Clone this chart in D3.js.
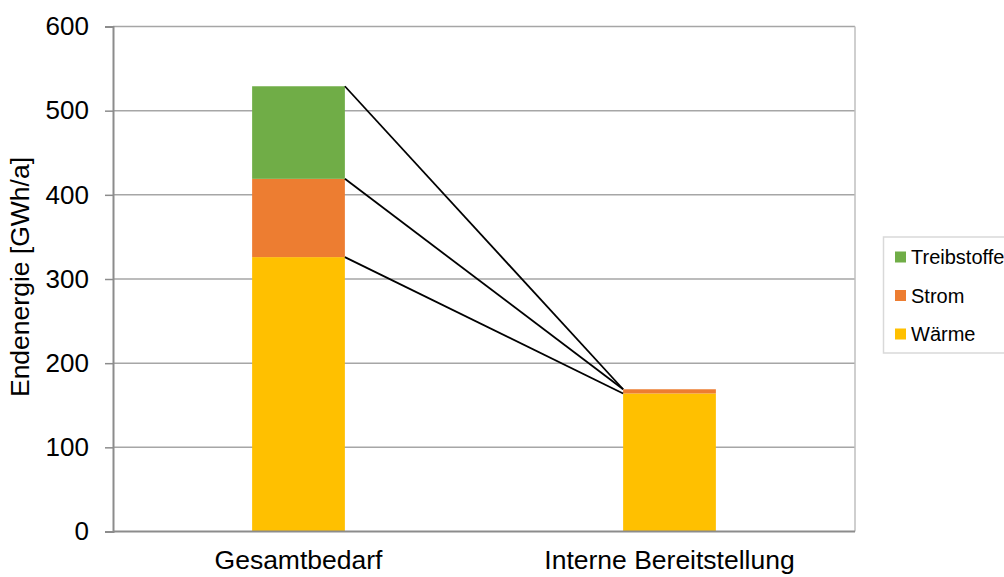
<!DOCTYPE html>
<html>
<head>
<meta charset="utf-8">
<script src="https://cdn.jsdelivr.net/npm/d3@7"></script>
<style>
  html, body { margin: 0; padding: 0; background: #fff; }
  svg { display: block; font-family: "Liberation Sans", Arial, sans-serif; }
</style>
</head>
<body>
<svg id="chart" width="1004" height="577"></svg>
<script>
// Energy demand vs. internal supply (GWh/a)
const categories = ["Gesamtbedarf", "Interne Bereitstellung"];
const seriesNames = ["Wärme", "Strom", "Treibstoffe"];
const waerme = [326, 164];
const strom = [93, 5];
const treibstoffe = [110, 0];
const yTicks = [0, 100, 200, 300, 400, 500, 600];
const colors = { "Wärme": "#FFC000", "Strom": "#ED7D31", "Treibstoffe": "#70AD47" };

const rows = categories.map((c, i) => ({
  category: c,
  "Wärme": waerme[i],
  "Strom": strom[i],
  "Treibstoffe": treibstoffe[i]
}));

const svg = d3.select("#chart");
const plot = { left: 113, right: 855, top: 26.5, bottom: 531.5 };

const x = d3.scaleBand()
  .domain(categories)
  .range([plot.left, plot.right])
  .paddingInner(0.75)
  .paddingOuter(0.375);

const y = d3.scaleLinear()
  .domain([0, 600])
  .range([plot.bottom, plot.top]);

// horizontal gridlines
svg.append("g")
  .selectAll("line")
  .data(yTicks.filter(d => d > 0))
  .join("line")
  .attr("x1", plot.left).attr("x2", plot.right)
  .attr("y1", d => y(d)).attr("y2", d => y(d))
  .attr("stroke", "#a6a6a6").attr("stroke-width", 1.5);

// right plot border
svg.append("line")
  .attr("x1", plot.right).attr("x2", plot.right)
  .attr("y1", plot.top).attr("y2", plot.bottom)
  .attr("stroke", "#bfbfbf").attr("stroke-width", 1.5);

// stacked bars
const stack = d3.stack().keys(seriesNames);
const stacked = stack(rows);

svg.append("g")
  .selectAll("g")
  .data(stacked)
  .join("g")
  .attr("fill", d => colors[d.key])
  .selectAll("rect")
  .data(d => d)
  .join("rect")
  .attr("x", d => x(d.data.category))
  .attr("width", x.bandwidth())
  .attr("y", d => y(d[1]))
  .attr("height", d => y(d[0]) - y(d[1]));

// series lines linking segment tops between the two bars
const c0 = categories[0], c1 = categories[1];
svg.append("g")
  .selectAll("line")
  .data(stacked)
  .join("line")
  .attr("x1", x(c0) + x.bandwidth())
  .attr("y1", d => y(d[0][1]))
  .attr("x2", x(c1))
  .attr("y2", d => y(d[1][1]))
  .attr("stroke", "#000").attr("stroke-width", 1.8);

// y axis
const yAxis = d3.axisLeft(y).tickValues(yTicks).tickSize(8).tickPadding(16);
const gy = svg.append("g")
  .attr("transform", `translate(${plot.left},0)`)
  .call(yAxis);
gy.select(".domain").attr("stroke", "#8c8c8c").attr("stroke-width", 2);
gy.selectAll(".tick line").attr("stroke", "#8c8c8c").attr("stroke-width", 1.5);
gy.selectAll(".tick text")
  .attr("font-size", 26).attr("fill", "#000")
  .attr("font-family", "Liberation Sans, Arial, sans-serif");

// x axis baseline
svg.append("line")
  .attr("x1", plot.left).attr("x2", plot.right)
  .attr("y1", plot.bottom).attr("y2", plot.bottom)
  .attr("stroke", "#8c8c8c").attr("stroke-width", 2);

// category labels
svg.append("g")
  .selectAll("text")
  .data(categories)
  .join("text")
  .attr("x", d => x(d) + x.bandwidth() / 2)
  .attr("y", 569)
  .attr("text-anchor", "middle")
  .attr("font-size", 26.5)
  .attr("fill", "#000")
  .text(d => d);

// y axis title
svg.append("text")
  .attr("transform", `translate(29,${(plot.top + plot.bottom) / 2 - 2}) rotate(-90)`)
  .attr("text-anchor", "middle")
  .attr("font-size", 26.5)
  .attr("fill", "#000")
  .text("Endenergie [GWh/a]");

// legend
const legend = svg.append("g");
legend.append("rect")
  .attr("x", 883.5).attr("y", 237)
  .attr("width", 140).attr("height", 116)
  .attr("fill", "#fff").attr("stroke", "#d9d9d9").attr("stroke-width", 1.5);

const legendOrder = seriesNames.slice().reverse();
const items = legend.selectAll("g.item")
  .data(legendOrder)
  .join("g")
  .attr("class", "item")
  .attr("transform", (d, i) => `translate(895,${257 + i * 38.5})`);
items.append("rect")
  .attr("x", 0).attr("y", -5.5)
  .attr("width", 11).attr("height", 11)
  .attr("fill", d => colors[d]);
items.append("text")
  .attr("x", 16).attr("y", 7)
  .attr("font-size", 20)
  .attr("fill", "#000")
  .text(d => d);
</script>
</body>
</html>
